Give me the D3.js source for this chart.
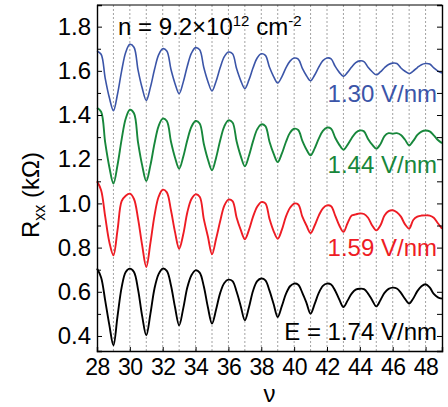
<!DOCTYPE html>
<html>
<head>
<meta charset="utf-8">
<script src="https://cdn.jsdelivr.net/npm/d3@7"></script>
<style>
  body { margin: 0; background: #fff; }
  svg text { font-family: "Liberation Sans", Arial, sans-serif; }
</style>
</head>
<body>
<div id="chart"></div>
<script>
// filling factor grid (quarter steps)
const nu = [28, 28.25, 28.5, 28.75, 29, 29.25, 29.5, 29.75, 30, 30.25, 30.5, 30.75, 31, 31.25, 31.5, 31.75,
  32, 32.25, 32.5, 32.75, 33, 33.25, 33.5, 33.75, 34, 34.25, 34.5, 34.75, 35, 35.25, 35.5, 35.75,
  36, 36.25, 36.5, 36.75, 37, 37.25, 37.5, 37.75, 38, 38.25, 38.5, 38.75, 39, 39.25, 39.5, 39.75,
  40, 40.25, 40.5, 40.75, 41, 41.25, 41.5, 41.75, 42, 42.25, 42.5, 42.75, 43, 43.25, 43.5, 43.75,
  44, 44.25, 44.5, 44.75, 45, 45.25, 45.5, 45.75, 46, 46.25, 46.5, 46.75, 47, 47.25, 47.5, 47.75,
  48, 48.25, 48.5, 48.75, 49];

// Rxx (kOhm) for each field
const r130 = [1.690, 1.675, 1.566, 1.479, 1.420, 1.495, 1.600, 1.684, 1.720, 1.707, 1.603, 1.522, 1.466,
  1.525, 1.606, 1.672, 1.700, 1.690, 1.607, 1.542, 1.497, 1.549, 1.622, 1.680, 1.705, 1.695, 1.615, 1.552, 1.509,
  1.553, 1.615, 1.664, 1.685, 1.677, 1.609, 1.556, 1.520, 1.559, 1.614, 1.658, 1.677, 1.670, 1.616, 1.574, 1.545,
  1.573, 1.613, 1.644, 1.658, 1.653, 1.611, 1.578, 1.555, 1.581, 1.617, 1.646, 1.658, 1.654, 1.620, 1.593, 1.575,
  1.593, 1.617, 1.637, 1.645, 1.642, 1.616, 1.596, 1.582, 1.595, 1.614, 1.629, 1.635, 1.633, 1.613, 1.598, 1.588,
  1.599, 1.615, 1.628, 1.633, 1.631, 1.613, 1.599, 1.590];
const r144 = [1.433, 1.415, 1.275, 1.165, 1.090, 1.174, 1.290, 1.384, 1.424, 1.408, 1.275, 1.172, 1.101,
  1.172, 1.271, 1.350, 1.384, 1.373, 1.280, 1.207, 1.157, 1.211, 1.287, 1.347, 1.373, 1.362, 1.270, 1.199, 1.150,
  1.207, 1.286, 1.349, 1.376, 1.366, 1.280, 1.214, 1.168, 1.216, 1.282, 1.335, 1.358, 1.350, 1.279, 1.225, 1.187,
  1.225, 1.278, 1.320, 1.338, 1.332, 1.283, 1.244, 1.218, 1.249, 1.293, 1.328, 1.343, 1.338, 1.297, 1.265, 1.243,
  1.265, 1.295, 1.320, 1.330, 1.326, 1.292, 1.266, 1.248, 1.268, 1.305, 1.318, 1.316, 1.318, 1.310, 1.288, 1.263,
  1.283, 1.310, 1.325, 1.330, 1.326, 1.308, 1.287, 1.273];
const r159 = [1.100, 1.060, 0.940, 0.825, 0.765, 0.880, 1.010, 1.035, 1.044, 1.020, 0.930, 0.810, 0.712,
  0.820, 0.945, 1.030, 1.062, 1.050, 0.970, 0.870, 0.795, 0.860, 0.960, 1.020, 1.041, 1.030, 0.930, 0.850, 0.770,
  0.840, 0.920, 0.990, 1.017, 1.010, 0.935, 0.880, 0.838, 0.880, 0.940, 0.985, 1.006, 1.000, 0.930, 0.875, 0.840,
  0.880, 0.940, 0.980, 0.999, 0.995, 0.940, 0.900, 0.866, 0.900, 0.945, 0.978, 0.991, 0.987, 0.945, 0.900, 0.871,
  0.910, 0.945, 0.950, 0.955, 0.952, 0.935, 0.900, 0.878, 0.900, 0.945, 0.965, 0.969, 0.960, 0.940, 0.905, 0.886,
  0.925, 0.940, 0.945, 0.946, 0.945, 0.935, 0.910, 0.886];
const r174 = [0.705, 0.665, 0.560, 0.450, 0.358, 0.490, 0.620, 0.690, 0.705, 0.690, 0.610, 0.490, 0.403,
  0.500, 0.615, 0.680, 0.705, 0.695, 0.630, 0.530, 0.448, 0.525, 0.620, 0.675, 0.697, 0.687, 0.625, 0.530, 0.456,
  0.520, 0.595, 0.640, 0.655, 0.648, 0.600, 0.535, 0.471, 0.530, 0.605, 0.648, 0.660, 0.652, 0.605, 0.545, 0.486,
  0.535, 0.590, 0.625, 0.637, 0.632, 0.595, 0.550, 0.501, 0.545, 0.595, 0.627, 0.637, 0.633, 0.605, 0.565, 0.531,
  0.560, 0.592, 0.610, 0.614, 0.612, 0.592, 0.562, 0.534, 0.562, 0.595, 0.613, 0.619, 0.615, 0.595, 0.568, 0.547,
  0.570, 0.603, 0.625, 0.634, 0.620, 0.590, 0.575, 0.569];

const seriesNames = ["1.30 V/nm", "1.44 V/nm", "1.59 V/nm", "E = 1.74 V/nm"];
const seriesColors = ["#3b55a8", "#17873b", "#ee1c24", "#000000"];
const labelValues = [1.461, 1.138, 0.764, 0.380];

const xTicks = [28, 30, 32, 34, 36, 38, 40, 42, 44, 46, 48];
const gridLines = [29, 30, 31, 32, 33, 34, 35, 36, 37, 38, 39, 40, 41, 42, 43, 44, 45, 46, 47, 48];
const yTicks = [0.4, 0.6, 0.8, 1.0, 1.2, 1.4, 1.6, 1.8];
const yMinor = [0.5, 0.7, 0.9, 1.1, 1.3, 1.5, 1.7];

const svgWidth = 448;
const svgHeight = 407;
const margin = { top: 5, right: 6, bottom: 56, left: 97 };
const width = svgWidth - margin.left - margin.right;
const height = svgHeight - margin.top - margin.bottom;

const svg = d3.select("#chart")
  .append("svg")
  .attr("width", svgWidth)
  .attr("height", svgHeight);

const g = svg.append("g")
  .attr("transform", `translate(${margin.left},${margin.top})`);

const x = d3.scaleLinear().domain([28, 49]).range([0, width]);
const y = d3.scaleLinear().domain([0.332, 1.898]).range([height, 0]);

// dashed guide lines at every integer filling factor
g.append("g")
  .selectAll("line")
  .data(gridLines)
  .join("line")
  .attr("x1", d => x(d)).attr("x2", d => x(d))
  .attr("y1", 0).attr("y2", height)
  .attr("stroke", "#8a8a8a")
  .attr("stroke-width", 0.8)
  .attr("stroke-dasharray", "2,2");

const allSeries = [r130, r144, r159, r174];

const line = d3.line()
  .x((d, i) => x(nu[i]))
  .y(d => y(d))
  .curve(d3.curveCatmullRom.alpha(0.5));

g.append("g")
  .selectAll("path")
  .data(allSeries)
  .join("path")
  .attr("d", d => line(d))
  .attr("fill", "none")
  .attr("stroke", (d, i) => seriesColors[i])
  .attr("stroke-width", (d, i) => i === 0 ? 1.6 : 1.9)
  .attr("stroke-linejoin", "round");

// axes
const fontSize = "24px";

const yAxis = g.append("g")
  .call(d3.axisLeft(y).tickValues(yTicks).tickSize(-5).tickPadding(6).tickFormat(d3.format(".1f")));
yAxis.selectAll("text").style("font-size", fontSize).attr("fill", "#000");

g.append("g")
  .call(d3.axisLeft(y).tickValues(yMinor).tickSize(-4).tickFormat(""))
  .select(".domain").remove();

g.append("g")
  .attr("transform", `translate(${width},0)`)
  .call(d3.axisRight(y).tickValues(yTicks.concat(yMinor)).tickSize(-5).tickFormat(""));

const xAxis = g.append("g")
  .attr("transform", `translate(0,${height})`)
  .call(d3.axisBottom(x).tickValues(xTicks).tickSize(-4).tickPadding(8).tickFormat(d3.format("d")));
xAxis.selectAll("text").style("font-size", "23px").attr("fill", "#000").attr("letter-spacing", "-0.5px");

g.append("line")
  .attr("x1", 0).attr("x2", width).attr("y1", 0).attr("y2", 0)
  .attr("stroke", "#000");

g.selectAll(".domain").attr("stroke", "#000").attr("stroke-width", 1.4);
g.selectAll(".tick line").attr("stroke", "#000");

// series labels
g.append("g")
  .selectAll("text")
  .data(seriesNames)
  .join("text")
  .attr("x", width - 5)
  .attr("y", (d, i) => y(labelValues[i]))
  .attr("text-anchor", "end")
  .attr("fill", (d, i) => seriesColors[i])
  .style("font-size", fontSize)
  .text(d => d);

// density annotation
const ann = g.append("text")
  .attr("x", 21)
  .attr("y", 30)
  .style("font-size", fontSize)
  .attr("fill", "#000");
ann.append("tspan").text("n = 9.2×10");
ann.append("tspan").attr("dy", -9).style("font-size", "15px").text("12");
ann.append("tspan").attr("dy", 9).text(" cm");
ann.append("tspan").attr("dy", -9).style("font-size", "15px").text("-2");

// axis titles
svg.append("text")
  .attr("x", margin.left + width / 2)
  .attr("y", 402)
  .attr("text-anchor", "middle")
  .style("font-size", fontSize)
  .text("ν");

const yl = svg.append("text")
  .attr("transform", "translate(39,195) rotate(-90)")
  .attr("text-anchor", "middle")
  .style("font-size", fontSize);
yl.append("tspan").text("R");
yl.append("tspan").attr("dy", 6).style("font-size", "16px").text("xx");
yl.append("tspan").attr("dy", -6).text(" (kΩ)");
</script>
</body>
</html>
